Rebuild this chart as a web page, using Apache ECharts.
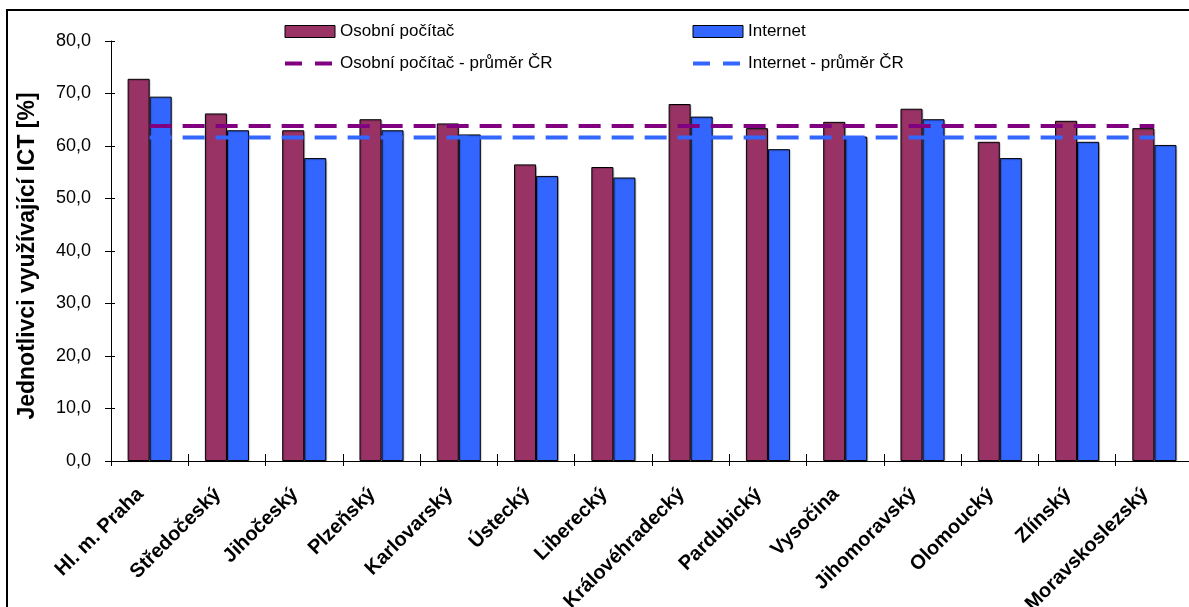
<!DOCTYPE html>
<html>
<head>
<meta charset="utf-8">
<script src="https://cdn.jsdelivr.net/npm/echarts@6/dist/echarts.min.js"></script>
<style>
  html, body { margin: 0; padding: 0; background: #fff; }
  #chart { width: 1189px; height: 607px; }
</style>
</head>
<body>
<div id="chart"></div>
<script>
const categories = ['Hl. m. Praha', 'Středočeský', 'Jihočeský', 'Plzeňský', 'Karlovarský', 'Ústecký', 'Liberecký',
  'Královéhradecký', 'Pardubický', 'Vysočina', 'Jihomoravský', 'Olomoucký', 'Zlínský', 'Moravskoslezský'];
const pcValues = [72.8, 66.2, 63.0, 65.1, 64.3, 56.5, 56.0, 68.0, 63.4, 64.6, 67.1, 60.8, 64.8, 63.4];
const internetValues = [69.4, 63.0, 57.7, 63.0, 62.2, 54.3, 54.0, 65.6, 59.4, 61.8, 65.1, 57.7, 60.8, 60.2];
const pcAverage = 63.8;
const internetAverage = 61.6;
const yTicks = { min: 0, max: 80, interval: 10 };

const seriesNames = ['Osobní počítač', 'Internet', 'Osobní počítač - průměr ČR', 'Internet - průměr ČR'];
const yAxisTitle = 'Jednotlivci využívající ICT [%]';
const colPc = '#993366', colNet = '#3366FF', colPcAvg = '#800080', colNetAvg = '#3366FF';
const FONT = '"Liberation Sans", Arial, sans-serif';

const GRID = { left: 111, right: -4, top: 41, bottom: 146 };
const CW = 1189, CH = 607;
const plotW = CW - GRID.left - GRID.right;
const plotH = CH - GRID.top - GRID.bottom;

const chart = echarts.init(document.getElementById('chart'), null, { renderer: 'canvas' });

const barStyle = (c) => ({
  color: c, borderColor: '#000', borderWidth: 1,
  shadowColor: 'rgba(0,0,0,0.22)', shadowOffsetX: 1, shadowOffsetY: 1, shadowBlur: 1
});

const legendText = { fontFamily: FONT, fontSize: 17, color: '#000' };
const legendCommon = {
  orient: 'vertical', top: 23, itemWidth: 50, itemHeight: 12, itemGap: 15,
  textStyle: legendText, padding: 0
};

const option = {
  animation: false,
  backgroundColor: '#fff',
  graphic: [{
    type: 'rect', shape: { x: 7, y: 10, width: 1250, height: 700 },
    style: { fill: 'none', stroke: '#000', lineWidth: 2 }, silent: true, z: 100
  }, {
    type: 'text', x: 28, y: 256, rotation: Math.PI / 2, silent: true,
    style: {
      text: yAxisTitle, fontFamily: FONT, fontSize: 23, fontWeight: 'bold', fill: '#000',
      align: 'center', verticalAlign: 'middle'
    }
  }],
  legend: [Object.assign({}, legendCommon, {
    left: 283,
    data: [
      { name: seriesNames[0], icon: 'rect', itemStyle: { borderColor: '#000', borderWidth: 1 } },
      { name: seriesNames[2], itemStyle: { opacity: 0 }, lineStyle: { type: [17, 13], width: 4 } }
    ]
  }), Object.assign({}, legendCommon, {
    left: 691,
    data: [
      { name: seriesNames[1], icon: 'rect', itemStyle: { borderColor: '#000', borderWidth: 1 } },
      { name: seriesNames[3], itemStyle: { opacity: 0 }, lineStyle: { type: [17, 13], width: 4 } }
    ]
  })],
  grid: Object.assign({ containLabel: false, outerBoundsMode: 'none' }, GRID),
  xAxis: [{
    type: 'category', data: categories, boundaryGap: true, position: 'bottom',
    axisLine: { lineStyle: { color: '#000', width: 1 } },
    axisTick: { show: true, length: 5, lineStyle: { color: '#000' }, interval: 0 },
    axisLabel: {
      interval: 0, rotate: 45, margin: 21, padding: [0, 13, 0, 0],
      fontFamily: FONT, fontSize: 20, fontWeight: 'bold', color: '#000'
    }
  }, {
    // upper half of the crossing category ticks (top axis moved down onto the bottom one)
    type: 'category', data: categories, boundaryGap: true, position: 'top', offset: -plotH,
    axisLine: { show: false },
    axisTick: { show: true, length: 7, lineStyle: { color: '#000' }, interval: 0 },
    axisLabel: { show: false }
  }],
  yAxis: [{
    type: 'value', min: yTicks.min, max: yTicks.max, interval: yTicks.interval, position: 'left',
    axisLine: { show: true, lineStyle: { color: '#000', width: 1 } },
    axisTick: { show: true, length: 6, lineStyle: { color: '#000' } },
    splitLine: { show: false },
    axisLabel: {
      margin: 20, fontFamily: FONT, fontSize: 18, color: '#000',
      formatter: (v) => v.toFixed(1).replace('.', ',')
    }
  }, {
    // inner half of the crossing value ticks (right axis moved onto the left one)
    type: 'value', min: yTicks.min, max: yTicks.max, interval: yTicks.interval, position: 'right',
    offset: -plotW,
    axisLine: { show: false },
    axisTick: { show: true, length: 4, lineStyle: { color: '#000' } },
    splitLine: { show: false },
    axisLabel: { show: false }
  }],
  series: [
    {
      name: seriesNames[0], type: 'bar', data: pcValues, barGap: '0%', barCategoryGap: '43%',
      itemStyle: barStyle(colPc), z: 2
    },
    {
      name: seriesNames[1], type: 'bar', data: internetValues, barGap: '0%', barCategoryGap: '43%',
      itemStyle: barStyle(colNet), z: 2
    },
    {
      name: seriesNames[2], type: 'line', data: categories.map(() => pcAverage), symbol: 'none',
      itemStyle: { color: colPcAvg },
      lineStyle: { color: colPcAvg, width: 4, type: [22, 11] }, z: 5
    },
    {
      name: seriesNames[3], type: 'line', data: categories.map(() => internetAverage), symbol: 'none',
      itemStyle: { color: colNetAvg },
      lineStyle: { color: colNetAvg, width: 4, type: [22, 11] }, z: 5
    }
  ]
};
chart.setOption(option);
</script>
</body>
</html>
